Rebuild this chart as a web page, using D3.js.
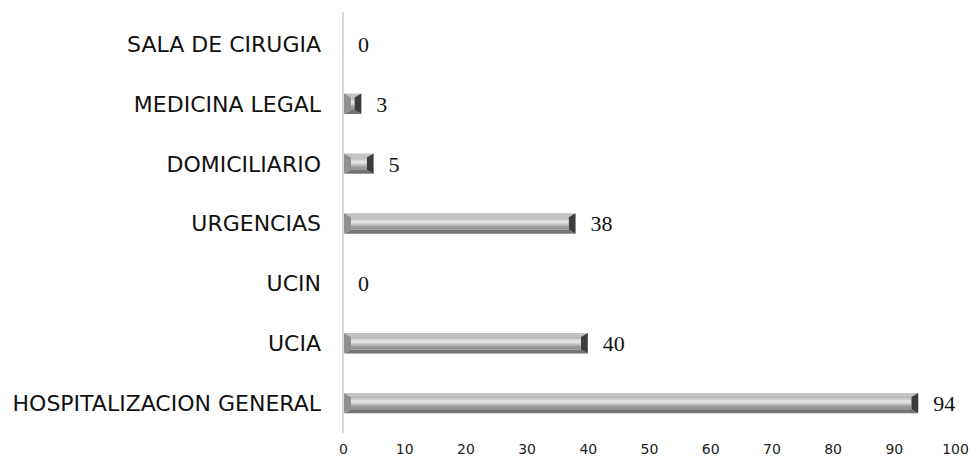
<!DOCTYPE html>
<html>
<head>
<meta charset="utf-8">
<script src="https://cdn.jsdelivr.net/npm/d3@7"></script>
<style>
  html, body { margin: 0; padding: 0; background: #fff; }
  svg { display: block; }
</style>
</head>
<body>
<svg id="chart" width="971" height="459"></svg>
<script>
// Services, bottom to top as drawn
const categories = ["HOSPITALIZACION GENERAL", "UCIA", "UCIN", "URGENCIAS", "DOMICILIARIO", "MEDICINA LEGAL", "SALA DE CIRUGIA"];
const values = [94, 40, 0, 38, 5, 3, 0];
const tickValues = [0, 10, 20, 30, 40, 50, 60, 70, 80, 90, 100];

const svg = d3.select("#chart");
const x0 = 343, x1 = 955;
const yTop = 14, yBottom = 433;

const x = d3.scaleLinear().domain([0, 100]).range([x0, x1]);
const y = d3.scaleBand()
  .domain(categories.slice().reverse())
  .range([yTop, yBottom])
  .paddingInner(0.66)
  .paddingOuter(0.33);

// Gradients for bevelled bar faces
const defs = svg.append("defs");
const face = defs.append("linearGradient").attr("id", "face")
  .attr("x1", 0).attr("y1", 0).attr("x2", 0).attr("y2", 1);
[[0, "#b0b0b0"], [0.35, "#e8e8e8"], [0.5, "#d4d4d4"], [0.75, "#a0a0a0"], [1, "#8c8c8c"]]
  .forEach(([o, c]) => face.append("stop").attr("offset", o).attr("stop-color", c));

const data = categories.map((c, i) => ({ cat: c, val: values[i] }));

const bars = svg.append("g").selectAll("g").data(data.filter(d => d.val > 0)).join("g");

bars.each(function (d) {
  const g = d3.select(this);
  const xa = x(0) + 1, xb = x(d.val);
  const ya = y(d.cat), yb = ya + y.bandwidth();
  const w = xb - xa, h = yb - ya;
  const bx = Math.min(7, w / 2), by = Math.min(4, h / 2);
  const ix0 = xa + bx, ix1 = xb - bx, iy0 = ya + by, iy1 = yb - by;
  const poly = pts => pts.map(p => p.join(",")).join(" ");
  // top bevel
  g.append("polygon").attr("points", poly([[xa, ya], [xb, ya], [ix1, iy0], [ix0, iy0]])).attr("fill", "#c2c2c2");
  // bottom bevel
  g.append("polygon").attr("points", poly([[xa, yb], [xb, yb], [ix1, iy1], [ix0, iy1]])).attr("fill", "#747474");
  // left bevel
  g.append("polygon").attr("points", poly([[xa, ya], [ix0, iy0], [ix0, iy1], [xa, yb]])).attr("fill", "#909090");
  // right bevel
  g.append("polygon").attr("points", poly([[xb, ya], [ix1, iy0], [ix1, iy1], [xb, yb]])).attr("fill", "#3c3c3c");
  // inner face
  g.append("rect").attr("x", ix0).attr("y", iy0)
    .attr("width", Math.max(0, ix1 - ix0)).attr("height", Math.max(0, iy1 - iy0))
    .attr("fill", "url(#face)");
});

// Vertical axis line
svg.append("line")
  .attr("x1", x(0)).attr("x2", x(0))
  .attr("y1", 12).attr("y2", yBottom)
  .attr("stroke", "#d9d9d9").attr("stroke-width", 2);

// Category labels
svg.append("g").selectAll("text").data(data).join("text")
  .attr("x", 321)
  .attr("y", d => y(d.cat) + y.bandwidth() / 2)
  .attr("dy", "0.36em")
  .attr("text-anchor", "end")
  .attr("font-family", "'DejaVu Sans', sans-serif")
  .attr("font-size", 22)
  .attr("fill", "#111")
  .text(d => d.cat);

// Value labels
svg.append("g").selectAll("text").data(data).join("text")
  .attr("x", d => x(d.val) + 15)
  .attr("y", d => y(d.cat) + y.bandwidth() / 2)
  .attr("dy", "0.36em")
  .attr("font-family", "'Liberation Serif', 'DejaVu Serif', serif")
  .attr("font-size", 22)
  .attr("fill", "#111")
  .text(d => d.val);

// Bottom tick labels
const axis = d3.axisBottom(x).tickValues(tickValues).tickSize(0).tickPadding(0);
const ax = svg.append("g").attr("transform", "translate(0,444)").call(axis);
ax.select(".domain").remove();
ax.selectAll("text")
  .attr("dy", "0.71em")
  .attr("font-family", "'DejaVu Sans', sans-serif")
  .attr("font-size", 14)
  .attr("fill", "#222");
</script>
</body>
</html>
